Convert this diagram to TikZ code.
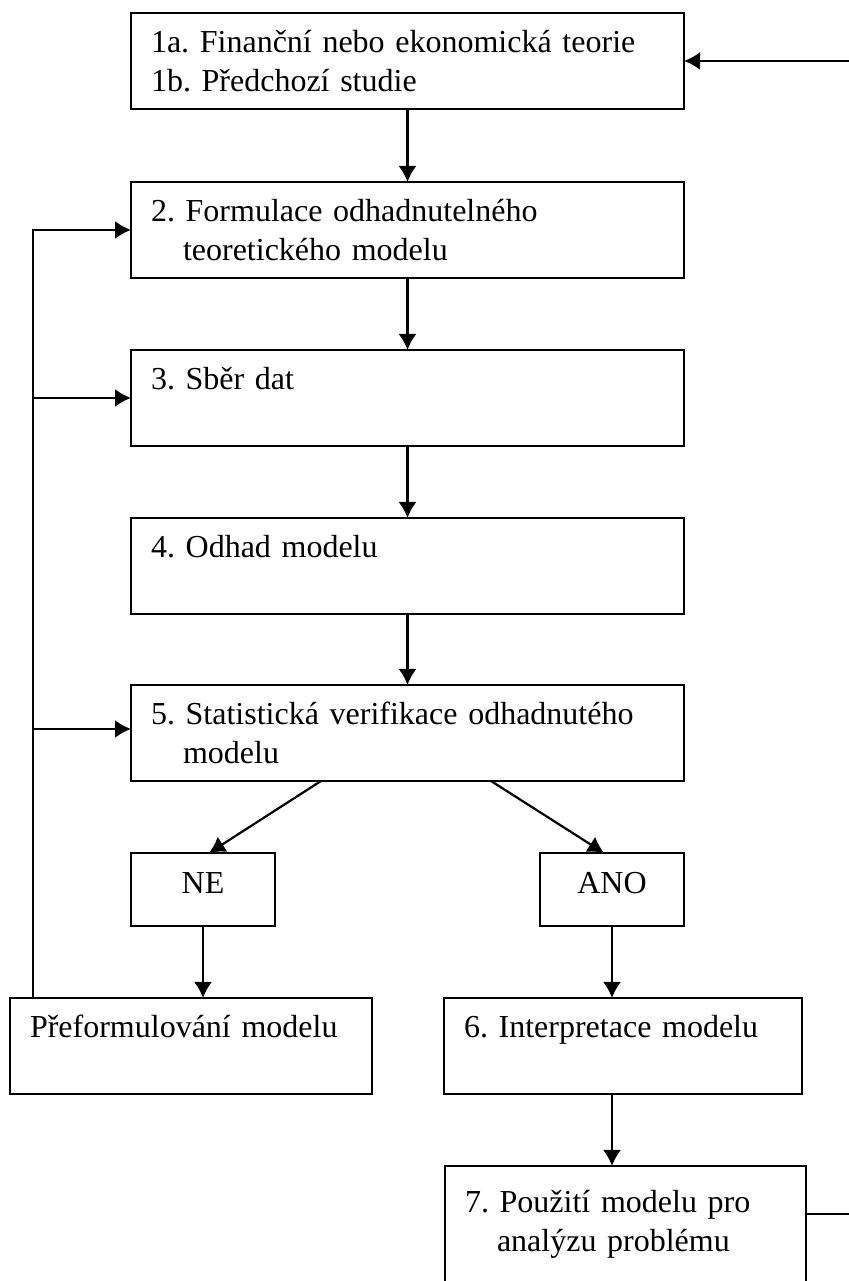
\documentclass[tikz,border=0pt]{standalone}
\usepackage{fontspec}
\setmainfont{Liberation Serif}
\frenchspacing
\usetikzlibrary{positioning,arrows.meta}

\tikzset{
  stage/.style={draw, line width=2.2pt, rectangle, minimum height=96pt,
    inner xsep=20pt, inner ysep=4pt, outer sep=0pt, text width=#1, align=left,
    font=\fontsize{32}{39}\selectfont,
    execute at begin node={\noindent\rule{0pt}{33pt}}, execute at end node=\strut},
  choice/.style={draw, line width=2.2pt, rectangle, minimum width=144pt,
    minimum height=73pt, inner sep=0pt, outer sep=0pt,
    font=\fontsize{32}{39}\selectfont, text depth=13pt},
  flow/.style={line width=2.2pt, -{Latex[length=16pt,width=18pt]}}
}

\begin{document}
\begin{tikzpicture}
    \useasboundingbox (0,0) rectangle (848pt,1281pt);

    % Define nodes
    \node[stage=513pt] at (407.5pt,1220pt) (theory)
        {1a. Finanční nebo ekonomická teorie\\ 1b. Předchozí studie};
    \node[stage=513pt, below=73pt of theory] (formul)
        {2. Formulace odhadnutelného\\ \hspace*{32pt}teoretického modelu};
    \node[stage=513pt, below=72pt of formul] (data)
        {3. Sběr dat\\ \mbox{}};
    \node[stage=513pt, below=72pt of data] (estim)
        {4. Odhad modelu\\ \mbox{}};
    \node[stage=513pt, below=71pt of estim] (verif)
        {5. Statistická verifikace odhadnutého\\ \hspace*{32pt}modelu};

    \node[choice, below right=72pt and 0pt of verif.south west] (ne) {NE};
    \node[choice, below left=72pt and 0pt of verif.south east] (ano) {ANO};

    \node[stage=322pt, below=72pt of ne, xshift=-12pt] (reform)
        {Přeformulování modelu\\ \mbox{}};
    \node[stage=318pt, below=72pt of ano, xshift=11pt] (interp)
        {6. Interpretace modelu\\ \mbox{}};
    \node[stage=321pt, below=72pt of interp, xshift=2.5pt, minimum height=150pt] (apply)
        {7. Použití modelu pro\\ \hspace*{32pt}analýzu problému\\ \mbox{}};

    % Connect nodes
    \draw[flow] (theory) -- (formul);
    \draw[flow] (formul) -- (data);
    \draw[flow] (data) -- (estim);
    \draw[flow] (estim) -- (verif);
    \draw[flow] ([xshift=190pt]verif.south west) -- ([xshift=6pt]ne.north);
    \draw[flow] ([xshift=-193pt]verif.south east) -- ([xshift=-8pt]ano.north);
    \draw[flow] (ne) -- (ne |- reform.north);
    \draw[flow] (ano) -- (ano |- interp.north);
    \draw[flow] (interp.south -| ano) -- (apply.north -| ano);

    % loop back on the left
    \coordinate (loopx) at ([xshift=23pt]reform.north west);
    \draw[flow] (loopx) |- (formul.west);
    \draw[flow] (loopx |- data.west) -- (data.west);
    \draw[flow] ([yshift=4pt]loopx |- verif.west) -- ([yshift=4pt]verif.west);

    % loop back on the right
    \coordinate (back) at (886pt,0);
    \draw[flow] ([yshift=27pt]apply.east) -| (back |- theory.east) -- (theory.east);
\end{tikzpicture}
\end{document}
